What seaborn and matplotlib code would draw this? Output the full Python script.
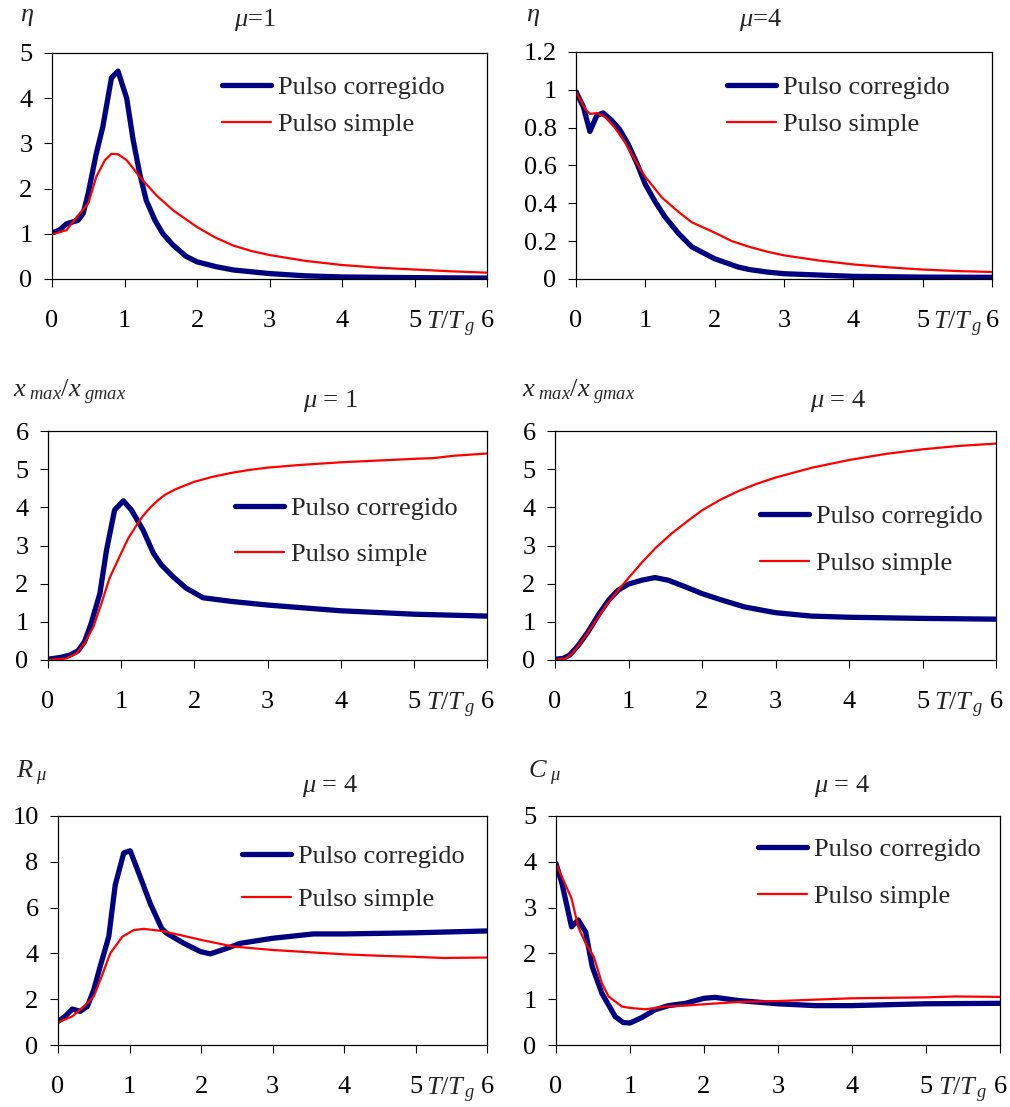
import numpy as np
import pandas as pd
import matplotlib
matplotlib.use("Agg")
import matplotlib.pyplot as plt
import seaborn as sns

# ---------------- data ----------------
# Panel 1: eta, mu=1
p1_cor_x = [0, 0.1, 0.2, 0.36, 0.43, 0.5, 0.61, 0.7, 0.82, 0.91, 1.03, 1.12, 1.21, 1.3, 1.42, 1.53, 1.67, 1.85, 2.0, 2.27, 2.5, 3.0, 3.5, 4.0, 5.0, 6.0]
p1_cor_y = [1.02, 1.08, 1.22, 1.3, 1.45, 1.9, 2.77, 3.36, 4.45, 4.6, 4.0, 3.07, 2.33, 1.74, 1.3, 1.0, 0.75, 0.5, 0.38, 0.27, 0.2, 0.12, 0.07, 0.045, 0.03, 0.02]
p1_sim_x = [0, 0.2, 0.34, 0.5, 0.61, 0.73, 0.82, 0.91, 1.03, 1.21, 1.44, 1.67, 2.0, 2.25, 2.5, 2.75, 3.0, 3.5, 4.0, 4.5, 5.0, 5.5, 6.0]
p1_sim_y = [0.99, 1.08, 1.37, 1.67, 2.26, 2.63, 2.77, 2.76, 2.63, 2.26, 1.85, 1.52, 1.15, 0.92, 0.74, 0.62, 0.53, 0.40, 0.31, 0.25, 0.21, 0.17, 0.14]

# Panel 2: eta, mu=4
p2_cor_x = [0, 0.106, 0.2, 0.3, 0.39, 0.51, 0.63, 0.75, 0.88, 1.0, 1.14, 1.28, 1.48, 1.67, 2.0, 2.34, 2.5, 2.75, 3.0, 4.0, 5.0, 6.0]
p2_cor_y = [0.99, 0.91, 0.78, 0.864, 0.878, 0.84, 0.79, 0.715, 0.61, 0.5, 0.41, 0.33, 0.24, 0.17, 0.107, 0.063, 0.05, 0.037, 0.028, 0.014, 0.01, 0.009]
p2_sim_x = [0, 0.13, 0.2, 0.3, 0.42, 0.56, 0.71, 0.88, 1.0, 1.24, 1.48, 1.67, 2.0, 2.25, 2.5, 2.75, 3.0, 3.5, 4.0, 4.5, 5.0, 5.5, 6.0]
p2_sim_y = [0.99, 0.9, 0.873, 0.877, 0.856, 0.80, 0.72, 0.61, 0.54, 0.43, 0.354, 0.30, 0.245, 0.20, 0.17, 0.145, 0.125, 0.098, 0.077, 0.062, 0.05, 0.042, 0.037]

# Panel 3: xmax/xgmax, mu=1
p3_cor_x = [0, 0.18, 0.3, 0.41, 0.5, 0.59, 0.71, 0.8, 0.91, 1.03, 1.14, 1.3, 1.44, 1.55, 1.71, 1.89, 2.12, 2.53, 3.0, 4.0, 5.0, 6.0]
p3_cor_y = [0.02, 0.07, 0.13, 0.24, 0.48, 0.96, 1.75, 2.88, 3.93, 4.17, 3.93, 3.4, 2.8, 2.49, 2.18, 1.88, 1.63, 1.53, 1.44, 1.29, 1.2, 1.15]
p3_sim_x = [0, 0.25, 0.39, 0.5, 0.62, 0.73, 0.84, 1.0, 1.1, 1.2, 1.3, 1.4, 1.5, 1.6, 1.75, 2.0, 2.25, 2.5, 2.75, 3.0, 3.44, 4.0, 5.0, 5.27, 5.54, 6.0]
p3_sim_y = [0, 0.04, 0.17, 0.44, 0.87, 1.48, 2.14, 2.8, 3.2, 3.5, 3.78, 4.0, 4.18, 4.33, 4.48, 4.67, 4.8, 4.9, 4.98, 5.04, 5.11, 5.18, 5.27, 5.29, 5.35, 5.41]

# Panel 4: xmax/xgmax, mu=4
p4_cor_x = [0, 0.11, 0.2, 0.32, 0.45, 0.59, 0.73, 0.86, 1.0, 1.18, 1.36, 1.54, 1.77, 2.0, 2.27, 2.58, 3.0, 3.49, 4.0, 5.0, 6.0]
p4_cor_y = [0.02, 0.04, 0.13, 0.39, 0.74, 1.18, 1.57, 1.83, 1.99, 2.09, 2.16, 2.09, 1.92, 1.74, 1.57, 1.39, 1.24, 1.15, 1.12, 1.09, 1.07]
p4_sim_x = [0, 0.14, 0.23, 0.36, 0.5, 0.68, 0.86, 1.0, 1.18, 1.36, 1.59, 1.81, 2.0, 2.25, 2.5, 2.75, 3.0, 3.5, 4.0, 4.5, 5.0, 5.5, 6.0]
p4_sim_y = [0, 0.04, 0.16, 0.48, 0.87, 1.39, 1.83, 2.15, 2.55, 2.92, 3.32, 3.65, 3.92, 4.2, 4.43, 4.62, 4.78, 5.04, 5.24, 5.4, 5.52, 5.61, 5.67]

# Panel 5: R_mu, mu=4
p5_cor_x = [0, 0.1, 0.2, 0.31, 0.41, 0.5, 0.59, 0.71, 0.8, 0.92, 1.01, 1.15, 1.29, 1.45, 1.52, 1.76, 1.99, 2.13, 2.36, 2.55, 3.0, 3.57, 4.0, 5.0, 6.0]
p5_cor_y = [1.03, 1.25, 1.57, 1.47, 1.68, 2.41, 3.43, 4.73, 6.98, 8.39, 8.48, 7.34, 6.18, 5.09, 4.88, 4.44, 4.08, 3.98, 4.22, 4.44, 4.66, 4.85, 4.85, 4.9, 4.98]
p5_sim_x = [0, 0.2, 0.36, 0.5, 0.61, 0.73, 0.9, 1.06, 1.2, 1.43, 1.71, 2.0, 2.45, 3.0, 3.52, 4.0, 4.55, 5.0, 5.39, 6.0]
p5_sim_y = [0.99, 1.25, 1.68, 2.12, 2.99, 4.0, 4.73, 5.02, 5.07, 4.99, 4.8, 4.59, 4.3, 4.15, 4.05, 3.96, 3.89, 3.85, 3.8, 3.82]

# Panel 6: C_mu, mu=4
p6_cor_x = [0, 0.08, 0.15, 0.21, 0.3, 0.4, 0.49, 0.62, 0.8, 0.91, 1.0, 1.16, 1.34, 1.52, 1.75, 2.0, 2.15, 2.47, 3.0, 3.5, 4.0, 5.0, 6.0]
p6_cor_y = [3.96, 3.53, 3.02, 2.58, 2.73, 2.47, 1.71, 1.13, 0.62, 0.49, 0.48, 0.6, 0.77, 0.86, 0.91, 1.02, 1.04, 0.97, 0.9, 0.86, 0.86, 0.9, 0.91]
p6_sim_x = [0, 0.1, 0.21, 0.3, 0.4, 0.51, 0.62, 0.71, 0.89, 1.0, 1.21, 1.48, 1.75, 2.0, 2.47, 3.0, 3.5, 4.0, 5.0, 5.39, 6.0]
p6_sim_y = [3.96, 3.6, 3.2, 2.58, 2.22, 1.93, 1.35, 1.06, 0.84, 0.81, 0.78, 0.84, 0.86, 0.89, 0.94, 0.96, 0.99, 1.02, 1.04, 1.06, 1.05]

x_ticks = [0, 1, 2, 3, 4, 5, 6]
x_ticklabels = ["0", "1", "2", "3", "4", "5", "6"]
y_ticks = [
    [0, 1, 2, 3, 4, 5],
    [0, 0.2, 0.4, 0.6, 0.8, 1.0, 1.2],
    [0, 1, 2, 3, 4, 5, 6],
    [0, 1, 2, 3, 4, 5, 6],
    [0, 2, 4, 6, 8, 10],
    [0, 1, 2, 3, 4, 5],
]
y_ticklabels = [
    ["0", "1", "2", "3", "4", "5"],
    ["0", "0.2", "0.4", "0.6", "0.8", "1", "1.2"],
    ["0", "1", "2", "3", "4", "5", "6"],
    ["0", "1", "2", "3", "4", "5", "6"],
    ["0", "2", "4", "6", "8", "10"],
    ["0", "1", "2", "3", "4", "5"],
]
titles = [r"$\mu$=1", r"$\mu$=4", r"$\mu$ = 1", r"$\mu$ = 4", r"$\mu$ = 4", r"$\mu$ = 4"]
ylabels = [r"$\eta$", r"$\eta$", r"$x_{\ max}/x_{\ gmax}$", r"$x_{\ max}/x_{\ gmax}$",
           r"$R_{\ \mu}$", r"$C_{\ \mu}$"]
series_names = ["Pulso corregido", "Pulso simple"]

panels = [
    (p1_cor_x, p1_cor_y, p1_sim_x, p1_sim_y),
    (p2_cor_x, p2_cor_y, p2_sim_x, p2_sim_y),
    (p3_cor_x, p3_cor_y, p3_sim_x, p3_sim_y),
    (p4_cor_x, p4_cor_y, p4_sim_x, p4_sim_y),
    (p5_cor_x, p5_cor_y, p5_sim_x, p5_sim_y),
    (p6_cor_x, p6_cor_y, p6_sim_x, p6_sim_y),
]

# ---------------- style ----------------
sns.set_style("ticks")
plt.rcParams["font.family"] = ["Liberation Serif", "DejaVu Serif"]
plt.rcParams["mathtext.fontset"] = "custom"
plt.rcParams["mathtext.rm"] = "Liberation Serif"
plt.rcParams["mathtext.it"] = "Liberation Serif:italic"
plt.rcParams["mathtext.bf"] = "Liberation Serif:bold"

FS = 19
W, H = 1010, 1107
fig = plt.figure(figsize=(W / 100, H / 100), dpi=100)

# axes boxes in pixels: left, right, top, bottom
boxes = [
    (52, 487, 53, 279),
    (576, 992, 52, 279),
    (48, 487, 431, 660),
    (555, 996, 431, 660),
    (58, 487, 816, 1045),
    (556, 1000, 816, 1045),
]
title_pos = [(255, 20), (760, 20), (330, 401), (838, 401), (330, 786), (842, 786)]
ylabel_pos = [(20, 17), (526, 17), (13, 392), (522, 392), (16, 773), (528, 773)]
# legend: handle start x px, top of first row px, labelspacing
legend_cfg = [(222, 76, 0.49), (727, 76, 0.49), (235, 497, 0.83),
              (760, 505, 0.87), (242, 845, 0.72), (758, 838, 0.87)]

NAVY = "#000080"
RED = "#FF0000"

for i, (box, data) in enumerate(zip(boxes, panels)):
    l, r, t, b = box
    ax = fig.add_axes([l / W, 1 - b / H, (r - l) / W, (b - t) / H])
    cx, cy, sx, sy = data
    sns.lineplot(x=cx, y=cy, ax=ax, color=NAVY, linewidth=3.8, label=series_names[0],
                 sort=False, estimator=None, solid_capstyle="round", solid_joinstyle="round")
    sns.lineplot(x=sx, y=sy, ax=ax, color=RED, linewidth=1.6, label=series_names[1],
                 sort=False, estimator=None, solid_joinstyle="round")
    ax.set_xlim(0, 6)
    ax.set_ylim(y_ticks[i][0], y_ticks[i][-1])
    ax.set_xticks(x_ticks)
    ax.set_xticklabels(x_ticklabels, fontsize=FS)
    ax.set_yticks(y_ticks[i])
    ax.set_yticklabels(y_ticklabels[i], fontsize=FS)
    ax.tick_params(axis="x", direction="out", length=6, width=0.8, pad=16, colors="black")
    ax.tick_params(axis="y", direction="out", length=6, width=0.8, pad=8, colors="black")
    ax.set_xlabel("")
    ax.set_ylabel("")
    for sp in ax.spines.values():
        sp.set_visible(True)
        sp.set_color("black")
        sp.set_linewidth(0.9)
    ax.patch.set_facecolor("white")

    # legend
    hx, ty, ls = legend_cfg[i]
    ax.legend(loc="upper left",
              bbox_to_anchor=((hx - l) / (r - l), (b - ty) / (b - t)),
              frameon=False, fontsize=FS, handlelength=1.85, handletextpad=0.28,
              borderaxespad=0, borderpad=0, labelspacing=ls)

    # T/Tg label between 5 and 6
    ax.annotate(r"$T/T_{\,g}$", xy=(5.5, 0), xycoords=("data", "axes fraction"),
                xytext=(0, -16 - 6), textcoords="offset points",
                ha="center", va="top", fontsize=FS)

    # title
    tx, tyy = title_pos[i]
    fig.text(tx / W, 1 - tyy / H, titles[i], ha="center", va="center", fontsize=FS)
    # y label at top-left
    lx, lyy = ylabel_pos[i]
    fig.text(lx / W, 1 - lyy / H, ylabels[i], ha="left", va="center", fontsize=FS)

fig.savefig("out.png", dpi=100, facecolor="white")
